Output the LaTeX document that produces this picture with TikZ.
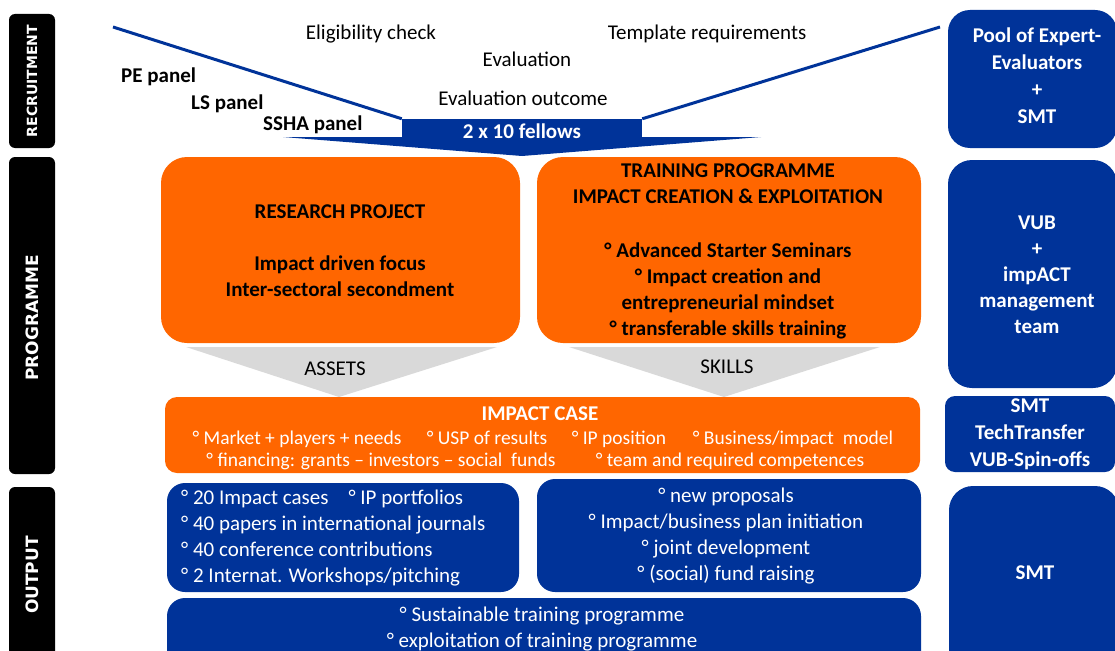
\documentclass[tikz,border=0pt]{standalone}
\usepackage{fontspec}
\setmainfont{Carlito}
\newfontfamily\tabfnt{DejaVu Sans}
\definecolor{ublue}{RGB}{0,51,153}
\definecolor{uorange}{RGB}{255,102,0}
\definecolor{ugray}{RGB}{217,217,217}
\begin{document}
\begin{tikzpicture}[x=1pt,y=-1pt,
  tabbox/.style={fill=black, rounded corners=6, inner sep=0, minimum width=46},
  tablabel/.style={text=white, rotate=90, inner sep=0, font=\tabfnt\bfseries\fontsize{14}{16}\selectfont},
  tablabelbig/.style={text=white, rotate=90, inner sep=0, font=\tabfnt\bfseries\fontsize{17}{19}\selectfont},
  bluebox/.style={fill=ublue, inner sep=0},
  orbox/.style={fill=uorange, inner sep=0},
  wtext/.style={text=white, inner sep=0, align=center},
  btext/.style={text=black, inner sep=0, align=center},
  bodyf/.style={font=\fontsize{21}{26}\selectfont},
  bodyb/.style={font=\bfseries\fontsize{21}{26}\selectfont},
  itemf/.style={font=\fontsize{19.5}{22}\selectfont},
  grayarrow/.style={fill=ugray},
  funnel/.style={draw=ublue, line width=3},
]
\useasboundingbox (0,0) rectangle (1115,650);

% ---- left tabs
\node[tabbox, minimum height=134] (rec) at (32,81) {};
\node[tablabel] (recl) at (rec) {RECRUITMENT};
\node[tabbox, minimum height=317] (prog) at (32,315.5) {};
\node[tablabelbig] (progl) at (32,318) {PROGRAMME};
\node[tabbox, minimum height=183] (outt) at (32,578.5) {};
\node[tablabelbig] (outl) at (32,575) {OUTPUT};

% ---- recruitment funnel
\fill[ublue] (283,137) -- (761,137) -- (522,156) -- cycle;
\node[bluebox, minimum width=240, minimum height=18] (fel) at (522,128) {};
\node[wtext, bodyb, anchor=base] (fell) at (522,139) {2 x 10 fellows};
\coordinate (fl) at (113,27);
\coordinate (fr) at (940,27);
\draw[funnel] (fl) -- (fel.north west);
\draw[funnel] (fr) -- (fel.north east);

\node[btext, bodyf, anchor=base] (elig) at (371,40) {Eligibility check};
\node[btext, bodyf, anchor=base] (templ) at (707,40) {Template requirements};
\node[btext, bodyf, anchor=base] (eval) at (527,67) {Evaluation};
\node[btext, bodyf, anchor=base] (evout) at (523,106) {Evaluation outcome};
\node[btext, bodyb, anchor=base west] (pe) at (121,83) {PE panel};
\node[btext, bodyb, anchor=base west] (ls) at (191,110) {LS panel};
\node[btext, bodyb, anchor=base west] (ssha) at (263,131) {SSHA panel};

% ---- right column
\node[bluebox, rounded corners=22, minimum width=169, minimum height=138] (pool) at (1032.5,79) {};
\node[wtext, font=\bfseries\fontsize{21}{27}\selectfont] (pooll) at (1037,76) {Pool of Expert-\\Evaluators\\+\\SMT};
\node[bluebox, rounded corners=24, minimum width=169, minimum height=228] (vub) at (1032.5,274) {};
\node[wtext, bodyb] (vubl) at (1037,275) {VUB\\+\\impACT\\management\\team};
\node[bluebox, rounded corners=10, minimum width=170, minimum height=76] (smta) at (1030,434) {};
\node[wtext, font=\bfseries\fontsize{21}{27}\selectfont] (smtal) at (1030,434) {SMT\\TechTransfer\\VUB-Spin-offs};
\node[bluebox, rounded corners=24, minimum width=170, minimum height=194] (smtb) at (1034,583) {};
\node[wtext, bodyb] (smtbl) at (1035,573) {SMT};

% ---- programme
\node[orbox, rounded corners=26, minimum width=359, minimum height=186] (res) at (340.5,250) {};
\node[btext, bodyb] (resl) at (340,251) {RESEARCH PROJECT\\[26pt]Impact driven focus\\Inter-sectoral secondment};
\node[orbox, rounded corners=26, minimum width=384, minimum height=186] (train) at (729,250) {};
\node[btext, bodyb] (trainl) at (728,251) {TRAINING PROGRAMME\\IMPACT CREATION \& EXPLOITATION\\[28pt]%
  ° Advanced Starter Seminars\\° Impact creation and\\entrepreneurial mindset\\° transferable skills training};

\fill[grayarrow] (186,347) -- (497,347) -- (339,397) -- cycle;
\fill[grayarrow] (569,347) -- (880,347) -- (724,397) -- cycle;
\node[btext, bodyf, anchor=base] (assets) at (335,375) {ASSETS};
\node[btext, bodyf, anchor=base] (skills) at (727,373) {SKILLS};

\node[orbox, rounded corners=12, minimum width=755, minimum height=76] (imp) at (542.5,435) {};
\node[wtext, bodyb, anchor=base] (impl) at (540,420) {IMPACT CASE};
\node[wtext, itemf, anchor=base] (i1) at (297,444) {° Market + players + needs};
\node[wtext, itemf, anchor=base] (i2) at (487,444) {° USP of results};
\node[wtext, itemf, anchor=base] (i3) at (619,444) {° IP position};
\node[wtext, itemf, anchor=base] (i4) at (793,444) {° Business/impact\ \ model};
\node[wtext, itemf, anchor=base] (i5) at (381,466) {° financing: grants – investors – social\ \ funds};
\node[wtext, itemf, anchor=base] (i6) at (730,466) {° team and required competences};

% ---- output
\node[bluebox, rounded corners=18, minimum width=352, minimum height=109] (o1) at (343,537.5) {};
\node[wtext, bodyf, align=left, anchor=west] (o1l) at (181,538.5) {° 20 Impact cases\hspace{20pt}° IP portfolios\\° 40 papers in international journals\\° 40 conference contributions\\° 2 Internat. Workshops/pitching};
\node[bluebox, rounded corners=18, minimum width=384, minimum height=113] (o2) at (729,535.5) {};
\node[wtext, bodyf] (o2l) at (726,536.5) {° new proposals\\° Impact/business plan initiation\\° joint development\\° (social) fund raising};
\node[bluebox, rounded corners=18, minimum width=754, minimum height=82] (o3) at (544,639) {};
\node[wtext, bodyf] (o3l) at (542,629) {° Sustainable training programme\\° exploitation of training programme};
\end{tikzpicture}
\end{document}
